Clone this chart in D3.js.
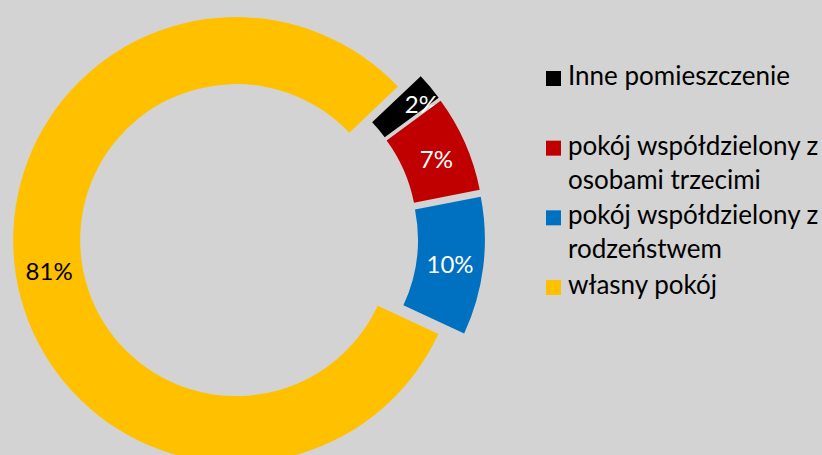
<!DOCTYPE html>
<html>
<head>
<meta charset="utf-8">
<script src="https://cdn.jsdelivr.net/npm/d3@7"></script>
<style>
  html, body { margin: 0; padding: 0; background: #d3d3d3; }
  svg { display: block; font-family: Lato, "Open Sans", sans-serif; }
</style>
</head>
<body>
<div id="chart_div"></div>
<script>
// data
var categories = ['Inne pomieszczenie', 'pokój współdzielony z osobami trzecimi',
                  'pokój współdzielony z rodzeństwem', 'własny pokój'];
var values = [2, 7, 10, 81];
var labels = ['2%', '7%', '10%', '81%'];
var legendLines = [['Inne pomieszczenie'],
                   ['pokój współdzielony z', 'osobami trzecimi'],
                   ['pokój współdzielony z', 'rodzeństwem'],
                   ['własny pokój']];
var colors = ['#000000', '#c00000', '#0070c0', '#ffc000'];
var labelColors = ['#fff', '#fff', '#fff', '#000'];

var width = 822, height = 455;
var cx = 249, cy = 238,
    outerR = 223, innerR = 156,
    explode = 13;

var svg = d3.select('#chart_div').append('svg')
  .attr('width', width)
  .attr('height', height);

svg.append('rect')
  .attr('width', width)
  .attr('height', height)
  .style('fill', '#d3d3d3');

// first slice starts a bit past 1:30 o'clock, like in the excel chart
var start = 46.5 * Math.PI / 180;
var pie = d3.pie().sort(null).startAngle(start).endAngle(start + 2 * Math.PI);
var arc = d3.arc().innerRadius(innerR).outerRadius(outerR);

var arcs = pie(values);

var g = svg.append('g')
  .attr('transform', 'translate(' + cx + ',' + cy + ')');

var slice = g.selectAll('g.slice')
  .data(arcs)
  .enter().append('g')
  .attr('class', 'slice')
  .attr('transform', function(d) {
    var mid = (d.startAngle + d.endAngle) / 2;
    return 'translate(' + (explode * Math.sin(mid)) + ',' + (-explode * Math.cos(mid)) + ')';
  });

slice.append('path')
  .attr('d', arc)
  .style('fill', function(d, i) { return colors[i]; })
  .style('stroke', 'none');

// the 2% label sits a bit outside its thin slice
var nudge = [[17, -4], [2, 3], [0, 2], [0, 1]];

slice.append('text')
  .attr('x', function(d, i) { return arc.centroid(d)[0] + nudge[i][0]; })
  .attr('y', function(d, i) { return arc.centroid(d)[1] + nudge[i][1]; })
  .attr('dy', '0.35em')
  .attr('text-anchor', 'middle')
  .style('font-size', '24px')
  .style('fill', function(d, i) { return labelColors[i]; })
  .text(function(d, i) { return labels[i]; });

// legend
var legendY = d3.scalePoint().domain(categories).range([85, 294]);
var lineH = 34;

var legend = svg.append('g').attr('class', 'legend');

var item = legend.selectAll('g.item')
  .data(categories)
  .enter().append('g')
  .attr('class', 'item')
  .attr('transform', function(d) { return 'translate(546,' + legendY(d) + ')'; });

item.append('rect')
  .attr('x', 0)
  .attr('y', -14)
  .attr('width', 15)
  .attr('height', 15)
  .style('fill', function(d, i) { return colors[i]; });

item.append('text')
  .attr('x', 22)
  .style('font-size', '26px')
  .style('fill', '#000')
  .selectAll('tspan')
  .data(function(d, i) { return legendLines[i]; })
  .enter().append('tspan')
  .attr('x', 22)
  .attr('y', function(d, j) { return j * lineH; })
  .text(function(d) { return d; });
</script>
</body>
</html>
